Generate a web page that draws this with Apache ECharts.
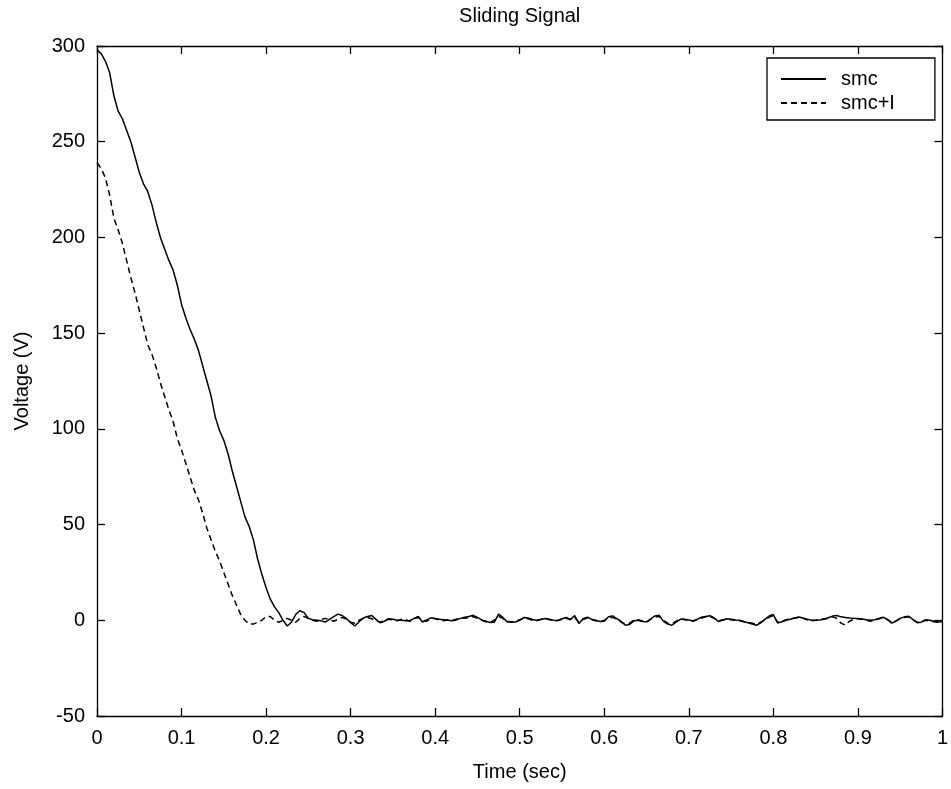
<!DOCTYPE html>
<html>
<head>
<meta charset="utf-8">
<script src="https://cdn.jsdelivr.net/npm/echarts@6/dist/echarts.min.js"></script>
<style>html,body{margin:0;padding:0;background:#fff}#c{width:951px;height:789px}</style>
</head>
<body>
<div id="c"></div>
<script>
const chartTitle = 'Sliding Signal';
const xName = 'Time (sec)';
const yName = 'Voltage (V)';
const seriesNames = ['smc', 'smc+I'];
const xTicks = [0, 0.1, 0.2, 0.3, 0.4, 0.5, 0.6, 0.7, 0.8, 0.9, 1];
const yTicks = [-50, 0, 50, 100, 150, 200, 250, 300];

const timeSec = [
0,0.005,0.01,0.015,0.02,0.025,0.03,0.035,0.04,0.045,
0.05,0.055,0.06,0.065,0.07,0.075,0.08,0.085,0.09,0.095,
0.1,0.105,0.11,0.115,0.12,0.125,0.13,0.135,0.14,0.145,
0.15,0.155,0.16,0.165,0.17,0.175,0.18,0.185,0.19,0.195,
0.2,0.205,0.21,0.215,0.22,0.225,0.23,0.235,0.24,0.245,
0.25,0.255,0.26,0.265,0.27,0.275,0.28,0.285,0.29,0.295,
0.3,0.305,0.31,0.315,0.32,0.325,0.33,0.335,0.34,0.345,
0.35,0.355,0.36,0.365,0.37,0.375,0.38,0.385,0.39,0.395,
0.4,0.405,0.41,0.415,0.42,0.425,0.43,0.435,0.44,0.445,
0.45,0.455,0.46,0.465,0.47,0.475,0.48,0.485,0.49,0.495,
0.5,0.505,0.51,0.515,0.52,0.525,0.53,0.535,0.54,0.545,
0.55,0.555,0.56,0.565,0.57,0.575,0.58,0.585,0.59,0.595,
0.6,0.605,0.61,0.615,0.62,0.625,0.63,0.635,0.64,0.645,
0.65,0.655,0.66,0.665,0.67,0.675,0.68,0.685,0.69,0.695,
0.7,0.705,0.71,0.715,0.72,0.725,0.73,0.735,0.74,0.745,
0.75,0.755,0.76,0.765,0.77,0.775,0.78,0.785,0.79,0.795,
0.8,0.805,0.81,0.815,0.82,0.825,0.83,0.835,0.84,0.845,
0.85,0.855,0.86,0.865,0.87,0.875,0.88,0.885,0.89,0.895,
0.9,0.905,0.91,0.915,0.92,0.925,0.93,0.935,0.94,0.945,
0.95,0.955,0.96,0.965,0.97,0.975,0.98,0.985,0.99,0.995,
1.0
];

const smc = [
298,296,292,286,274,266,262,256,250,242,
234,228,224,217,208,200,194,188,183,175,
165,158,152,147,141,133,125,117,106,99,
94,87,78,70,62,54,49,42,32,24,
17,11,7,4,0,-3,-1,3,5,4,
1,
0.3,0,-0.3,-0.9,0.5,1.9,3.2,2.5,0.9,-1.2,
-3,-0.8,1.2,2,2.5,0.5,-1.3,-0.5,0.8,0.5,
0,0,-0.2,-0.2,1,2,-0.9,0.2,1.3,1,
0.5,0.3,0,-0.3,0.2,1,1.6,2,2.6,1.5,
0.2,-0.5,-1.2,-1,3.2,1.5,-0.8,-0.9,-0.9,0,
1.5,1.2,0.4,0,0.4,0.9,0.6,0,-0.2,0.8,
1.5,0.5,2.4,-1.7,0.8,1.6,0.6,0,-0.6,-0.5,
1.8,2.3,0.8,-0.6,-2.6,-2.2,-0.3,0,-0.6,-0.8,
0.8,2.3,2.6,-0.6,-2,-2.6,-1,0.5,0.6,0.2,
-0.3,0.6,1.6,2,2.4,1.2,-0.6,0,0.8,0.6,
0.2,0,-0.6,-1.3,-2,-2.6,-1.4,0.5,2.2,3,
-1.4,-0.8,0,0.5,1.2,1.7,1.2,0.6,0,0,
0.2,0.5,1.3,2.2,2.5,1.8,1.5,1.2,1,0.9,
0.7,0.3,0,0.3,1,1.6,0.5,-1.5,-0.5,1,
1.8,2.1,0.5,-1.3,-1,0.3,0,-0.5,-0.9,-0.8
];

const smcI = [
239,236,231,222,210,204,197,188,179,171,
162,153,144,139,132,124,117,110,104,95,
89,82,75,68,63,56,48,42,36,31,
25,19,13,8,3,0,-2,-2,-1,0,
2,2,0,-1,0,1,0,-1,1,2,
1,
0,-0.5,0.5,1,0.3,-0.5,0.5,1.5,0.5,-1,
-1.5,0,1,1.5,0.8,-0.3,-1,0,0.5,0.2,
-0.3,0.5,0.3,-0.5,0.8,1.5,0,-0.5,1,0.8,
0.2,-0.2,0.3,0,0.5,1.2,1,1.5,2,1,
0,-0.8,-1,0,2,1,-0.5,-1,-0.5,0.3,
1,0.8,0,-0.3,0.5,1,0.3,-0.2,0,0.5,
1,0.3,1.5,-1,0.5,1,0.3,-0.3,-0.8,0,
1.2,1.5,0.5,-1,-2,-1.5,0,0.3,-0.3,-1,
0.5,1.8,2,0,-1.5,-2,-0.5,0.8,0.3,0,
-0.5,0.3,1.2,1.8,2,1,-0.3,0.3,0.5,0.3,
0,-0.3,-0.8,-1,-1.5,-2,-1,0.3,1.5,2.5,
-1,-0.5,0.3,0.8,1,1.5,1,0.3,-0.3,0,
0.5,0.8,1,1.8,1,-1.5,-2.5,-0.5,0.5,0.8,
0.5,0,-0.5,0,0.8,1.3,0.3,-1,-0.3,0.8,
1.5,1.8,0.3,-1,-0.8,0,-0.3,-0.8,-1,-1.3
];

const FONT = '"Liberation Sans", Arial, Helvetica, sans-serif';
const FS = 20;
const chart = echarts.init(document.getElementById('c'), null, {renderer: 'canvas'});
const pair = (vals) => vals.map((v, i) => [timeSec[i], v]);
const fmt = (v) => String(Math.round(v * 10) / 10);

const axisLine = {show: true, onZero: false, lineStyle: {color: '#000', width: 1.3}};
const tickIn = {show: true, inside: true, length: 8, lineStyle: {color: '#000', width: 1.3}};
const txt = {fontFamily: FONT, fontSize: FS, color: '#000'};

chart.setOption({
  animation: false,
  backgroundColor: '#fff',
  textStyle: {fontFamily: FONT, color: '#000'},
  grid: {left: 97, right: 7, top: 46, bottom: 73, containLabel: false},
  legend: {
    orient: 'vertical',
    left: 767, top: 58,
    data: seriesNames,
    backgroundColor: '#fff',
    borderColor: '#000', borderWidth: 1.3, borderRadius: 0,
    padding: [11, 40, 7, 13],
    itemWidth: 45, itemHeight: 14, itemGap: 4,
    itemStyle: {opacity: 0},
    textStyle: Object.assign({padding: [0, 0, 0, 10]}, txt)
  },
  xAxis: [{
    type: 'value', min: xTicks[0], max: xTicks[xTicks.length - 1], interval: 0.1,
    position: 'bottom',
    name: xName, nameLocation: 'middle', nameGap: 46,
    nameTextStyle: txt,
    axisLine: axisLine, axisTick: tickIn,
    axisLabel: Object.assign({margin: 12, formatter: fmt}, txt),
    splitLine: {show: false}
  }, {
    type: 'value', min: xTicks[0], max: xTicks[xTicks.length - 1], interval: 0.1,
    position: 'top',
    name: chartTitle, nameLocation: 'middle', nameGap: 20,
    nameTextStyle: txt,
    axisLine: axisLine, axisTick: tickIn,
    axisLabel: {show: false}, splitLine: {show: false}
  }],
  yAxis: [{
    type: 'value', min: yTicks[0], max: yTicks[yTicks.length - 1], interval: 50,
    position: 'left',
    name: yName, nameLocation: 'middle', nameGap: 65, nameRotate: 90,
    nameTextStyle: txt,
    axisLine: axisLine, axisTick: tickIn,
    axisLabel: Object.assign({margin: 12}, txt),
    splitLine: {show: false}
  }, {
    type: 'value', min: yTicks[0], max: yTicks[yTicks.length - 1], interval: 50,
    position: 'right',
    axisLine: axisLine, axisTick: tickIn,
    axisLabel: {show: false}, splitLine: {show: false}
  }],
  series: [{
    name: seriesNames[0], type: 'line', data: pair(smc),
    symbol: 'none', smooth: false,
    lineStyle: {color: '#000', width: 1.5, type: 'solid'},
    itemStyle: {color: '#000'}
  }, {
    name: seriesNames[1], type: 'line', data: pair(smcI),
    symbol: 'none', smooth: false,
    lineStyle: {color: '#000', width: 1.5, type: [6, 4]},
    itemStyle: {color: '#000'}
  }]
});
</script>
</body>
</html>
